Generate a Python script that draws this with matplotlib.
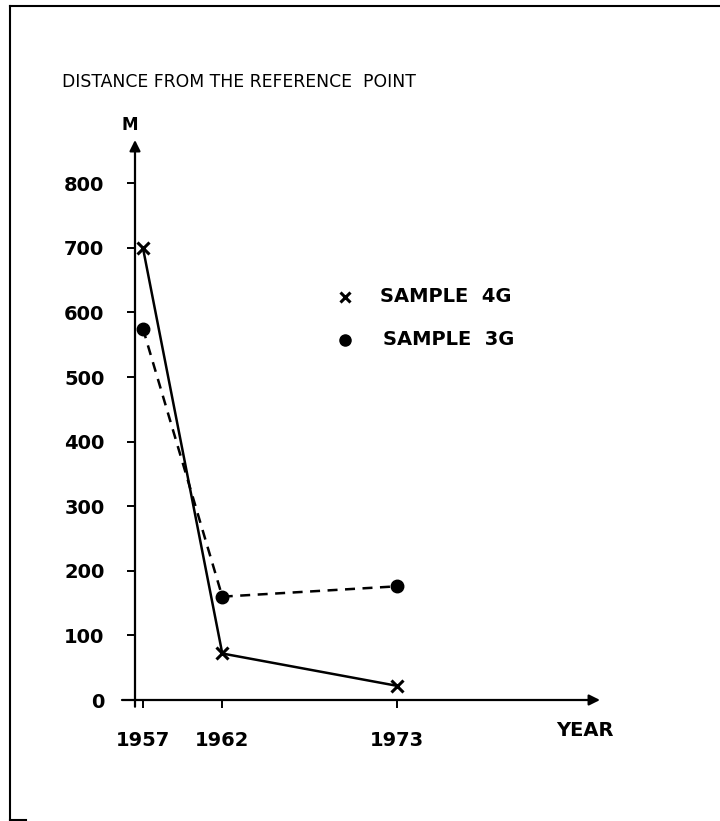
import matplotlib
matplotlib.use("Agg")
import matplotlib.pyplot as plt
from matplotlib.lines import Line2D

# values
years = [1957, 1962, 1973]
sample_4g = [700, 72, 22]     # x markers, solid line
sample_3g = [575, 160, 176]   # dots, dashed line
y_ticks = [0, 100, 200, 300, 400, 500, 600, 700, 800]

plt.rcParams['font.family'] = 'DejaVu Sans'

fig = plt.figure(figsize=(7.2, 8.21), dpi=100)
W, H = 720, 821
# axes placed in pixels: left edge x=135, bottom y=700, right x=600, top y=140
ax = fig.add_axes([135 / W, (H - 700) / H, 465 / W, 560 / H])
ax.set_xlim(1956.5, 1985.8)
ax.set_ylim(0, 867)
for s in ax.spines.values():
    s.set_visible(False)

# axis lines with arrowheads
arrow = dict(arrowstyle='-|>', lw=1.6, color='black', mutation_scale=16,
             shrinkA=0, shrinkB=0)
ax.annotate('', xy=(0, 1), xytext=(0, -0.012), xycoords='axes fraction',
            arrowprops=arrow, annotation_clip=False)
ax.annotate('', xy=(1, 0), xytext=(-0.028, 0), xycoords='axes fraction',
            arrowprops=arrow, annotation_clip=False)

ax.set_xticks(years)
ax.set_xticklabels([str(y) for y in years])
ax.set_yticks(y_ticks)
ax.set_yticklabels([str(v) for v in y_ticks])
ax.tick_params(axis='both', direction='out', length=6, width=1.4,
               labelsize=14, colors='black')
ax.tick_params(axis='y', pad=16)
ax.tick_params(axis='x', pad=16)
for lab in ax.get_xticklabels() + ax.get_yticklabels():
    lab.set_fontweight('semibold')

# the two series
ax.plot(years, sample_4g, color='black', lw=1.8, marker='x', ms=8, mew=2.2,
        clip_on=False)
ax.plot(years, sample_3g, color='black', lw=1.8, ls=(0, (4, 3)), marker='o',
        ms=9, clip_on=False)

# hand-drawn style legend
ax.plot([0.452], [0.72], transform=ax.transAxes, marker='x', ms=7, mew=2.2,
        color='black', clip_on=False)
ax.text(0.527, 0.72, 'SAMPLE  4G', transform=ax.transAxes, fontsize=14,
        fontweight='semibold', va='center', ha='left')
ax.plot([0.452], [0.643], transform=ax.transAxes, marker='o', ms=8,
        color='black', clip_on=False)
ax.text(0.533, 0.643, 'SAMPLE  3G', transform=ax.transAxes, fontsize=14,
        fontweight='semibold', va='center', ha='left')

# axis captions
fig.text(130 / W, 1 - 125 / H, 'M', fontsize=12, fontweight='bold',
         ha='center', va='center')
fig.text(585 / W, 1 - 730 / H, 'YEAR', fontsize=14, fontweight='bold',
         ha='center', va='center')
fig.text(62 / W, 1 - 82 / H, 'DISTANCE FROM THE REFERENCE  POINT',
         fontsize=12.4, fontweight='medium', ha='left', va='center')

# page frame (left, top and a short bottom stub)
frame = dict(color='black', lw=1.5, transform=fig.transFigure)
fig.add_artist(Line2D([10 / W, 10 / W], [1 - 6 / H, 1 - 820 / H], **frame))
fig.add_artist(Line2D([10 / W, 1.0], [1 - 6 / H, 1 - 6 / H], **frame))
fig.add_artist(Line2D([10 / W, 26 / W], [1 - 820 / H, 1 - 820 / H], **frame))

fig.savefig('out.png', dpi=100)
